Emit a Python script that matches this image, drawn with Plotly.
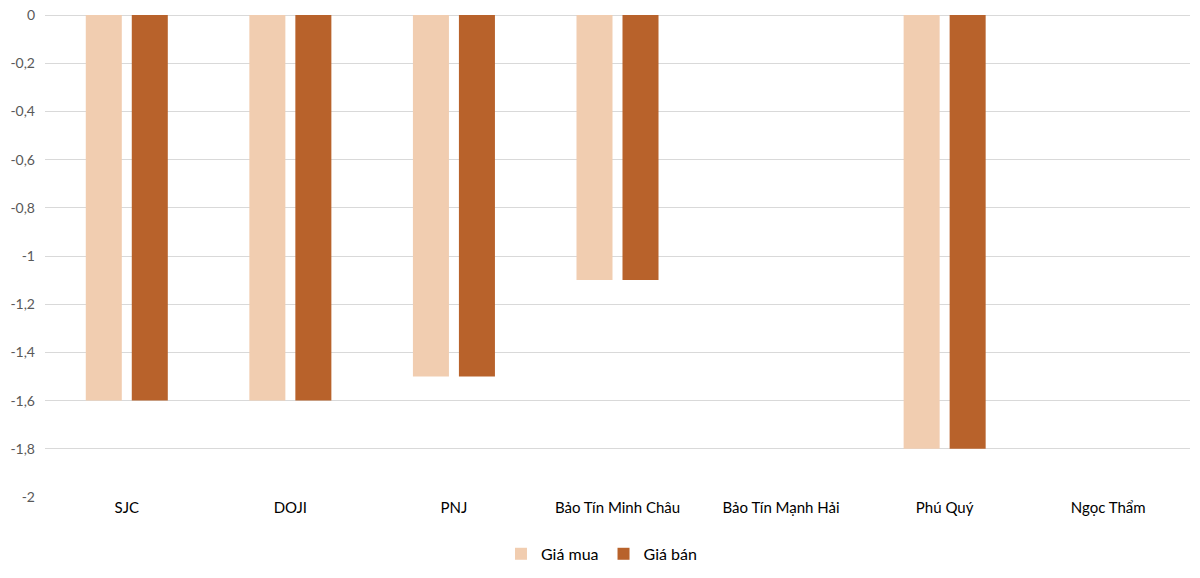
import plotly.graph_objects as go

# tiệm vàng và mức thay đổi giá (triệu đồng/lượng)
brands = ["SJC", "DOJI", "PNJ", "Bảo Tín Minh Châu", "Bảo Tín Mạnh Hải", "Phú Quý", "Ngọc Thẩm"]
buy_change = [-1.6, -1.6, -1.5, -1.1, 0, -1.8, 0]
sell_change = [-1.6, -1.6, -1.5, -1.1, 0, -1.8, 0]

# nhãn trục tung, dùng dấu gạch ngang như bản gốc
tick_vals = [0, -0.2, -0.4, -0.6, -0.8, -1, -1.2, -1.4, -1.6, -1.8, -2]
tick_labels = ["0", "-0,2", "-0,4", "-0,6", "-0,8", "-1", "-1,2", "-1,4", "-1,6", "-1,8", "-2"]

fig = go.Figure()
fig.add_trace(go.Bar(x=brands, y=buy_change, name="Giá mua",
                     marker=dict(color="#F1CDB0", line=dict(width=0))))
fig.add_trace(go.Bar(x=brands, y=sell_change, name="Giá bán",
                     marker=dict(color="#B8622B", line=dict(width=0))))

# page body adds ~8px, so margins are shifted to compensate
fig.update_layout(
    width=1200, height=578,
    margin=dict(l=37, r=18, t=7, b=89),
    paper_bgcolor="white", plot_bgcolor="white",
    font=dict(family="Lato, Noto Sans, sans-serif", size=15, color="#000000"),
    barmode="group",
    bargap=0.4375,
    bargroupgap=0.217,
    showlegend=True,
    legend=dict(orientation="h", x=0.486, xanchor="center", y=-0.118, yanchor="middle",
                font=dict(size=16), itemwidth=30, traceorder="normal"),
)
fig.update_xaxes(showgrid=False, showline=False, ticks="", automargin=False,
                 tickfont=dict(size=15, color="#000000"))
fig.update_yaxes(range=[-2, 0], tickvals=tick_vals, ticktext=tick_labels,
                 showgrid=True, gridcolor="#D9D9D9", gridwidth=1,
                 zeroline=True, zerolinecolor="#D9D9D9", zerolinewidth=1, automargin=False,
                 showline=False, ticks="", tickfont=dict(size=14, color="#595959"), ticklabelstandoff=9,
                 ticklabeloverflow="allow")

fig.write_html("out.html")
